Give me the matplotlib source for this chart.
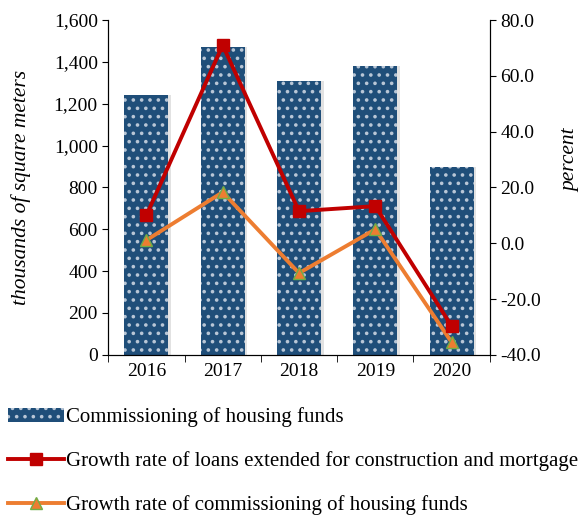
import numpy as np
import matplotlib.pyplot as plt

plt.rcParams['font.family'] = ['Liberation Serif', 'DejaVu Serif']
plt.rcParams['hatch.linewidth'] = 1.4

years = ['2016', '2017', '2018', '2019', '2020']
housing = [1240, 1470, 1310, 1380, 900]
loans_growth = [10.0, 71.0, 11.5, 13.3, -29.7]
housing_growth = [1.1, 18.3, -10.7, 5.0, -35.5]

bar_color = '#1f4e79'
red = '#c00000'
orange = '#ed7d31'

fig = plt.figure(figsize=(5.88, 5.15), dpi=100)
ax = fig.add_axes([0.184, 0.311, 0.649, 0.65])
x = np.arange(len(years))

# soft shadow behind the bars
ax.bar(x + 0.035, housing, width=0.58, color='#d0d0d0', alpha=0.6, zorder=1)
bars = ax.bar(x, housing, width=0.58, color=bar_color, edgecolor='#b8c6d6',
              linewidth=0, hatch='..', zorder=2,
              label='Commissioning of housing funds')

ax.set_ylim(0, 1600)
ax.set_yticks(np.arange(0, 1601, 200))
ax.set_yticklabels([f'{v:,}' for v in range(0, 1601, 200)])
ax.set_xlim(-0.5, len(years) - 0.5)
ax.set_xticks(x)
ax.set_xticklabels(years)
ax.set_xticks(np.arange(-0.5, len(years)), minor=True)
ax.tick_params(axis='x', which='major', length=0, pad=6)
ax.tick_params(axis='x', which='minor', length=5, direction='out')
ax.tick_params(axis='y', direction='out', length=4)
ax.tick_params(labelsize=14)
ax.set_ylabel('thousands of square meters', fontsize=15.5, style='italic', labelpad=16)
ax.spines['top'].set_visible(False)

ax2 = ax.twinx()
l1, = ax2.plot(x, loans_growth, color=red, lw=2.8, marker='s', ms=9,
               zorder=4, label='Growth rate of loans extended for construction and mortgage')
l2, = ax2.plot(x, housing_growth, color=orange, lw=2.8, marker='^', ms=8,
               markerfacecolor=orange, markeredgecolor='#70ad47', zorder=3,
               label='Growth rate of commissioning of housing funds')
ax2.set_ylim(-40, 80)
ax2.set_yticks(np.arange(-40, 81, 20))
ax2.set_yticklabels([f'{v:.1f}' for v in range(-40, 81, 20)])
ax2.tick_params(axis='y', direction='out', length=4, labelsize=14)
ax2.set_ylabel('percent', fontsize=15.5, style='italic', rotation=90,
               va='center', ha='center')
ax2.yaxis.set_label_coords(1.213, 0.58)
ax2.spines['top'].set_visible(False)

fig.legend(handles=[bars, l1, l2], loc='upper left', bbox_to_anchor=(0.0, 0.225),
           frameon=False, fontsize=15, handlelength=2.65, handletextpad=0.1,
           labelspacing=1.15, borderaxespad=0)

fig.savefig('out.png', dpi=100)
